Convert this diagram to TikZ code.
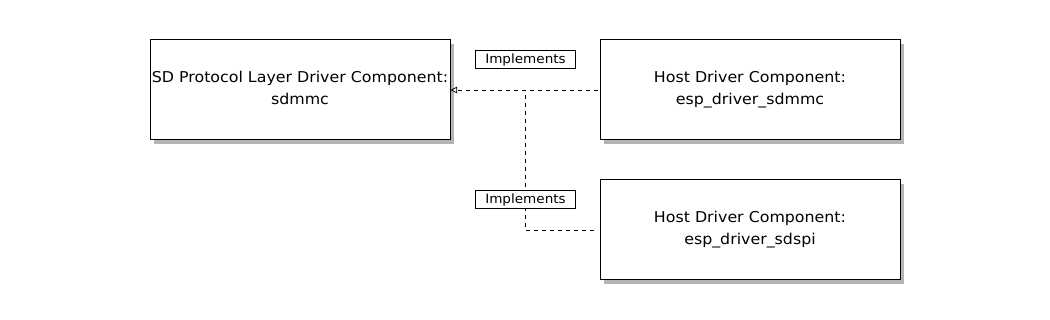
\documentclass[tikz,border=0pt]{standalone}
\usepackage{fontspec}
\setmainfont{DejaVu Sans}[FakeStretch=1.06]
\usetikzlibrary{shadows,arrows.meta}
\newcommand{\comptext}[2]{\raisebox{-4.6pt}{\renewcommand{\arraystretch}{1}\begin{tabular}{@{}c@{}}#1\\[2.3pt]#2\end{tabular}}}
\begin{document}
\begin{tikzpicture}[x=0.75pt,y=-0.75pt,
  comp/.style={draw,fill=white,line width=0.75pt,minimum width=225pt,minimum height=75pt,inner sep=0pt,align=center,font=\fontsize{11.2}{14}\selectfont,
    drop shadow={shadow xshift=2.8pt,shadow yshift=-2.8pt,opacity=0.45,fill=black!65}},
  lbl/.style={draw,fill=white,line width=0.6pt,minimum width=75.5pt,minimum height=14pt,inner sep=0pt,font=\fontsize{9.6}{11}\selectfont},
  dep/.style={dashed,dash pattern=on 3pt off 3pt,line width=0.6pt}]
\useasboundingbox (0,0) rectangle (1050,320);
\node[comp] (sd) at (300,90) {\comptext{SD Protocol Layer Driver Component:}{sdmmc}};
\node[comp] (mmc) at (750,90) {\comptext{Host Driver Component:}{esp\_driver\_sdmmc}};
\node[comp] (spi) at (750,230) {\comptext{Host Driver Component:}{esp\_driver\_sdspi}};
\coordinate (j) at (525,90);
\coordinate (k) at (525,230);
\draw[dep,-{Triangle[open,length=5pt,width=5pt]},shorten <=1.5pt] (mmc.west) -- (sd.east);
\draw[dep,shorten <=4pt] (spi.west) -- (k) -- (j);
\node[lbl] (l1) at (525.5,59.5) {Implements};
\node[lbl] (l2) at (525.5,199.5) {Implements};
\end{tikzpicture}
\end{document}
